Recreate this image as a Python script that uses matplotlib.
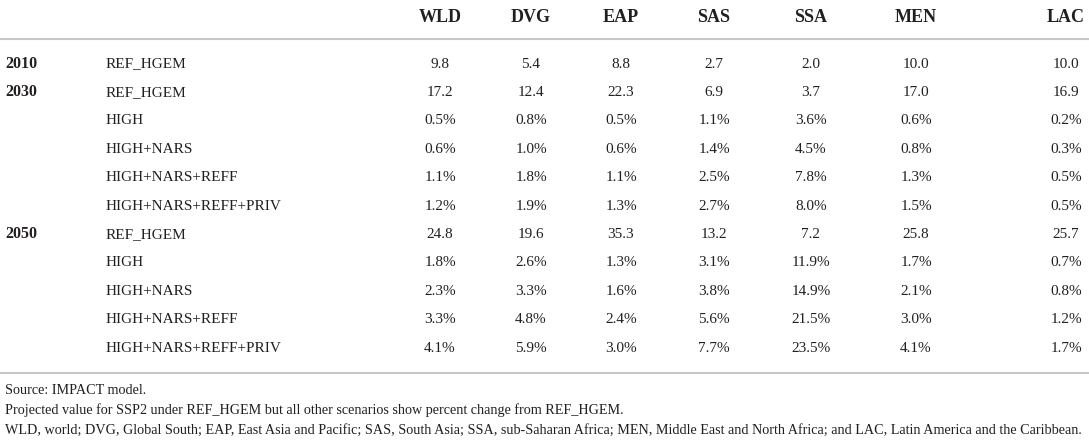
import matplotlib.pyplot as plt

plt.rcParams['font.family'] = ['Liberation Serif', 'DejaVu Serif']

regions = ['WLD', 'DVG', 'EAP', 'SAS', 'SSA', 'MEN', 'LAC']
years = ['2010', '2030', '', '', '', '', '2050', '', '', '', '']
scenarios = ['REF_HGEM',
             'REF_HGEM', 'HIGH', 'HIGH+NARS', 'HIGH+NARS+REFF', 'HIGH+NARS+REFF+PRIV',
             'REF_HGEM', 'HIGH', 'HIGH+NARS', 'HIGH+NARS+REFF', 'HIGH+NARS+REFF+PRIV']

# REF_HGEM rows are levels, the rest are % change from REF_HGEM
WLD = [9.8, 17.2, 0.5, 0.6, 1.1, 1.2, 24.8, 1.8, 2.3, 3.3, 4.1]
DVG = [5.4, 12.4, 0.8, 1.0, 1.8, 1.9, 19.6, 2.6, 3.3, 4.8, 5.9]
EAP = [8.8, 22.3, 0.5, 0.6, 1.1, 1.3, 35.3, 1.3, 1.6, 2.4, 3.0]
SAS = [2.7, 6.9, 1.1, 1.4, 2.5, 2.7, 13.2, 3.1, 3.8, 5.6, 7.7]
SSA = [2.0, 3.7, 3.6, 4.5, 7.8, 8.0, 7.2, 11.9, 14.9, 21.5, 23.5]
MEN = [10.0, 17.0, 0.6, 0.8, 1.3, 1.5, 25.8, 1.7, 2.1, 3.0, 4.1]
LAC = [10.0, 16.9, 0.2, 0.3, 0.5, 0.5, 25.7, 0.7, 0.8, 1.2, 1.7]
values = [WLD, DVG, EAP, SAS, SSA, MEN, LAC]

notes = ['Source: IMPACT model.',
         'Projected value for SSP2 under REF_HGEM but all other scenarios show percent change from REF_HGEM.',
         'WLD, world; DVG, Global South; EAP, East Asia and Pacific; SAS, South Asia; SSA, sub-Saharan Africa; '
         'MEN, Middle East and North Africa; and LAC, Latin America and the Caribbean.']

W, H = 1089, 440
fig = plt.figure(figsize=(W / 100, H / 100), dpi=100)
ax = fig.add_axes([0, 0, 1, 1])
ax.set_xlim(0, W)
ax.set_ylim(H, 0)
ax.axis('off')

txt = '#231f20'
rule = '#c8c8c8'
col_x = [440, 531, 621, 714, 811, 916, 1066]
row_y0, row_dy = 64, 28.4
head_y = 17

for x, r in zip(col_x, regions):
    ax.text(x, head_y, r, ha='center', va='center', fontsize=13, fontweight='bold', color=txt)

ax.plot([0, W], [39, 39], color=rule, lw=1.5, solid_capstyle='butt')

for i, (yr, sc) in enumerate(zip(years, scenarios)):
    y = row_y0 + i * row_dy
    if yr:
        ax.text(5, y, yr, ha='left', va='center', fontsize=11.5, fontweight='bold', color=txt)
    ax.text(106, y, sc, ha='left', va='center', fontsize=11, color=txt)
    for x, col in zip(col_x, values):
        v = col[i]
        s = '%.1f' % v if sc == 'REF_HGEM' else '%.1f%%' % v
        ax.text(x, y, s, ha='center', va='center', fontsize=11, color=txt)

ax.plot([0, W], [373, 373], color=rule, lw=1.5, solid_capstyle='butt')

for k, n in enumerate(notes):
    ax.text(5, 391 + k * 19.5, n, ha='left', va='center', fontsize=10.2, color=txt)

fig.savefig('out.png', dpi=100)
